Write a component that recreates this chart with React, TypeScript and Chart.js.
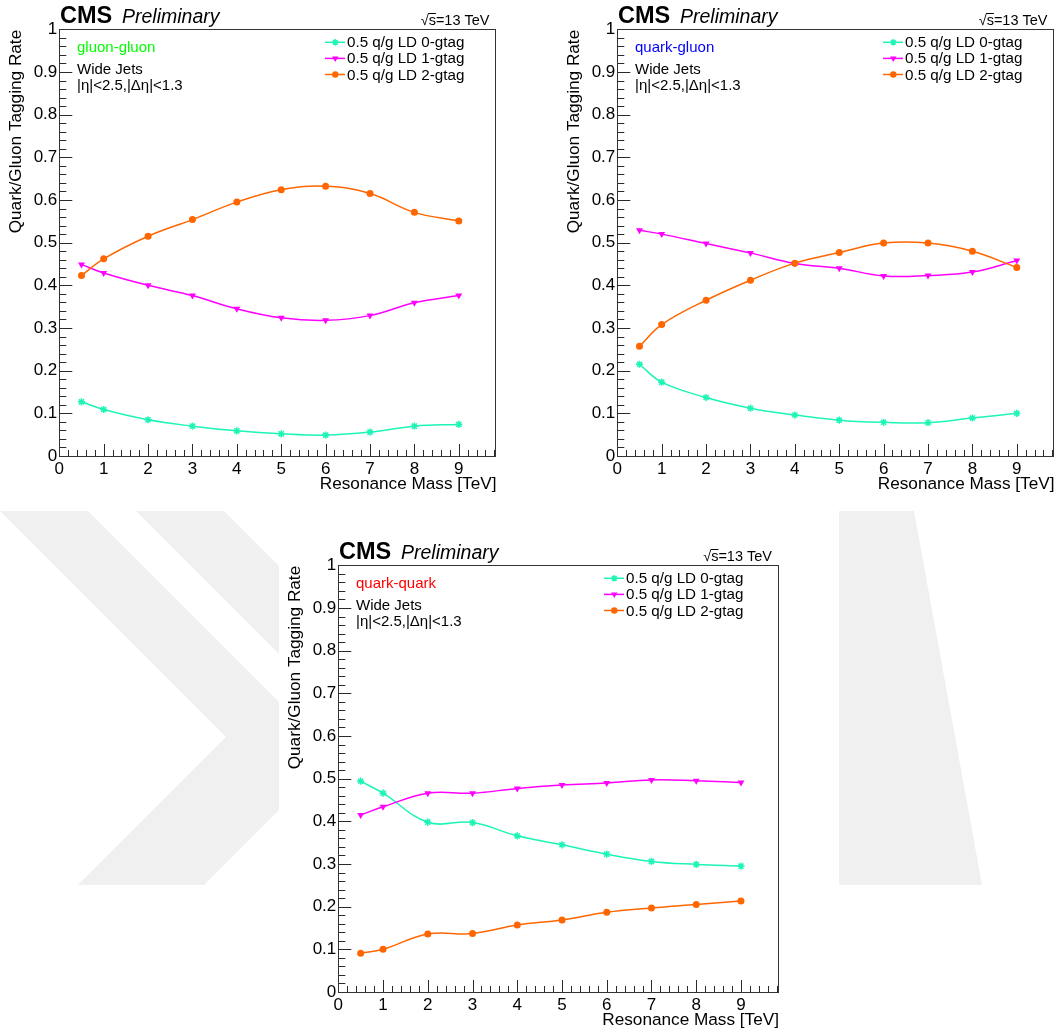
import React, { useEffect, useRef } from "react";
import { Chart, registerables } from "chart.js";

Chart.register(...registerables);

// Resonance mass points [TeV]
const massPoints = [0.5, 1, 2, 3, 4, 5, 6, 7, 8, 9];

// gluon-gluon tagging rates
const ggZeroTag = [0.127, 0.109, 0.085, 0.07, 0.059, 0.052, 0.049, 0.056, 0.07, 0.074];
const ggOneTag = [0.449, 0.429, 0.4, 0.376, 0.345, 0.324, 0.318, 0.329, 0.359, 0.376];
const ggTwoTag = [0.423, 0.462, 0.515, 0.554, 0.595, 0.624, 0.632, 0.615, 0.571, 0.551];

// quark-gluon tagging rates
const qgZeroTag = [0.215, 0.173, 0.137, 0.112, 0.096, 0.084, 0.079, 0.078, 0.089, 0.1];
const qgOneTag = [0.529, 0.52, 0.498, 0.476, 0.451, 0.44, 0.422, 0.423, 0.431, 0.458];
const qgTwoTag = [0.257, 0.308, 0.365, 0.412, 0.452, 0.477, 0.499, 0.499, 0.48, 0.442];

// quark-quark tagging rates
const qqZeroTag = [0.494, 0.466, 0.398, 0.397, 0.366, 0.345, 0.323, 0.306, 0.299, 0.295];
const qqOneTag = [0.415, 0.434, 0.466, 0.466, 0.477, 0.485, 0.49, 0.497, 0.495, 0.491];
const qqTwoTag = [0.091, 0.1, 0.136, 0.137, 0.157, 0.169, 0.187, 0.197, 0.205, 0.213];

const seriesLabels = ["0.5 q/g LD 0-gtag", "0.5 q/g LD 1-gtag", "0.5 q/g LD 2-gtag"];
const seriesColors = ["#1cf5b6", "#ff00ff", "#ff6600"];
const seriesMarkers = ["star", "triangle", "circle"];
const markerRadius = [3.6, 4, 3.5];
const markerRotation = [0, 180, 0];

const xAxisTitle = "Resonance Mass [TeV]";
const yAxisTitle = "Quark/Gluon Tagging Rate";
const selectionLines = ["Wide Jets", "|\u03b7|<2.5,|\u0394\u03b7|<1.3"];

const FONT = '"Liberation Sans", Arial, Helvetica, sans-serif';

// frame geometry inside every pad
const FRAME_LEFT = 59.3;
const FRAME_TOP = 29.3;
const FRAME_RIGHT = 500;
const FRAME_BOTTOM = 456;

function drawMarker(ctx: CanvasRenderingContext2D, style: string, x: number, y: number, r: number, color: string) {
  ctx.save();
  ctx.fillStyle = color;
  ctx.strokeStyle = color;
  if (style === "circle") {
    ctx.beginPath();
    ctx.arc(x, y, r, 0, Math.PI * 2);
    ctx.fill();
  } else if (style === "triangle") {
    let rad = Math.PI;
    ctx.beginPath();
    for (let i = 0; i < 3; i++) {
      const px = x + Math.sin(rad) * r;
      const py = y - Math.cos(rad) * r;
      if (i === 0) ctx.moveTo(px, py);
      else ctx.lineTo(px, py);
      rad += (2 * Math.PI) / 3;
    }
    ctx.closePath();
    ctx.fill();
  } else {
    ctx.lineWidth = 1.5;
    ctx.beginPath();
    ctx.moveTo(x - r, y);
    ctx.lineTo(x + r, y);
    ctx.moveTo(x, y - r);
    ctx.lineTo(x, y + r);
    const d = r * Math.SQRT1_2;
    ctx.moveTo(x - d, y - d);
    ctx.lineTo(x + d, y + d);
    ctx.moveTo(x - d, y + d);
    ctx.lineTo(x + d, y - d);
    ctx.stroke();
  }
  ctx.restore();
}

// ROOT-style frame, inward ticks, titles, labels and legend
const rootStylePlugin = {
  id: "rootStyle",
  afterDraw(chart: any, _args: any, opts: any) {
    const ctx: CanvasRenderingContext2D = chart.ctx;
    const a = chart.chartArea;
    const xs = chart.scales.x;
    const ys = chart.scales.y;
    ctx.save();

    // tick marks pointing into the frame
    ctx.strokeStyle = "#2a2a2a";
    ctx.lineWidth = 1;
    ctx.beginPath();
    for (let i = 0; i <= 50; i++) {
      const y = Math.round(ys.getPixelForValue(i * 0.02)) + 0.5;
      const len = i % 5 === 0 ? 13 : 7;
      ctx.moveTo(a.left, y);
      ctx.lineTo(a.left + len, y);
    }
    for (let i = 0; i <= 49; i++) {
      const x = Math.round(xs.getPixelForValue(i * 0.2)) + 0.5;
      const len = i % 5 === 0 ? 12 : 6;
      ctx.moveTo(x, a.bottom);
      ctx.lineTo(x, a.bottom - len);
    }
    ctx.stroke();

    // frame
    ctx.strokeStyle = "#333333";
    ctx.strokeRect(Math.round(a.left) + 0.5, Math.round(a.top) + 0.5, Math.round(a.right - a.left) - 1, Math.round(a.bottom - a.top));

    ctx.fillStyle = "#000";
    ctx.textBaseline = "alphabetic";

    // header
    ctx.textAlign = "left";
    ctx.font = `bold 23.5px ${FONT}`;
    ctx.fillText("CMS", a.left + 0.7, a.top - 6.5);
    ctx.font = `italic 19.5px ${FONT}`;
    ctx.fillText("Preliminary", a.left + 62.7, a.top - 6.5);

    // sqrt(s)=13 TeV
    ctx.font = `14.5px ${FONT}`;
    ctx.textAlign = "right";
    const energy = "s=13 TeV";
    const eRight = a.right - 7;
    const baseY = a.top - 4.3;
    ctx.fillText(energy, eRight, baseY);
    const eW = ctx.measureText(energy).width;
    const sW = ctx.measureText("s").width;
    const sLeft = eRight - eW;
    ctx.fillText("\u221a", sLeft, baseY);
    ctx.beginPath();
    ctx.lineWidth = 1;
    ctx.strokeStyle = "#000";
    ctx.moveTo(sLeft - 0.5, baseY - 11.5);
    ctx.lineTo(sLeft + sW, baseY - 11.5);
    ctx.stroke();

    // axis titles
    ctx.font = `17.2px ${FONT}`;
    ctx.textAlign = "right";
    ctx.fillText(xAxisTitle, a.right, a.bottom + 32.5);
    ctx.save();
    ctx.translate(a.left - 38.5, a.top + 0.5);
    ctx.rotate(-Math.PI / 2);
    ctx.fillText(yAxisTitle, 0, 0);
    ctx.restore();

    // channel and selection
    ctx.textAlign = "left";
    ctx.font = `15px ${FONT}`;
    ctx.fillStyle = opts.channelColor;
    ctx.fillText(opts.channel, a.left + 17.7, a.top + 22.2);
    ctx.fillStyle = "#000";
    ctx.fillText(selectionLines[0], a.left + 17.7, a.top + 44.2);
    ctx.fillText(selectionLines[1], a.left + 17.7, a.top + 60.2);

    // legend
    ctx.font = `15.2px ${FONT}`;
    seriesLabels.forEach((lab, i) => {
      const cy = a.top + 13 + i * 16.1;
      ctx.strokeStyle = seriesColors[i];
      ctx.lineWidth = 1.5;
      ctx.beginPath();
      ctx.moveTo(a.left + 265.7, cy);
      ctx.lineTo(a.left + 285.7, cy);
      ctx.stroke();
      drawMarker(ctx, seriesMarkers[i], a.left + 276, cy, markerRadius[i] - 0.3, seriesColors[i]);
      ctx.fillStyle = "#000";
      ctx.fillText(lab, a.left + 287.7, cy + 5);
    });

    ctx.restore();
  },
};

type PanelProps = {
  left: number;
  top: number;
  width: number;
  height: number;
  channel: string;
  channelColor: string;
  series: number[][];
};

function Panel({ left, top, width, height, channel, channelColor, series }: PanelProps) {
  const ref = useRef<HTMLCanvasElement | null>(null);

  useEffect(() => {
    if (!ref.current) return;
    const datasets = series.map((vals, i) => ({
      label: seriesLabels[i],
      data: massPoints.map((x, j) => ({ x, y: vals[j] })),
      borderColor: seriesColors[i],
      backgroundColor: seriesColors[i],
      borderWidth: 1.5,
      tension: 0.4,
      pointStyle: seriesMarkers[i] as any,
      pointRadius: markerRadius[i],
      pointRotation: markerRotation[i],
      pointBorderWidth: seriesMarkers[i] === "star" ? 1.5 : 0,
      pointBackgroundColor: seriesColors[i],
      pointBorderColor: seriesColors[i],
      fill: false,
      order: 2 - i,
    }));

    const chart = new Chart(ref.current, {
      type: "line",
      data: { datasets },
      plugins: [rootStylePlugin],
      options: {
        responsive: false,
        animation: false,
        devicePixelRatio: 1,
        layout: { padding: { left: 0, top: FRAME_TOP, right: width - FRAME_RIGHT, bottom: 0 } },
        plugins: {
          legend: { display: false },
          tooltip: { enabled: false },
          rootStyle: { channel, channelColor },
        } as any,
        scales: {
          x: {
            type: "linear",
            min: 0,
            max: 9.85,
            afterFit: (s: any) => {
              s.height = height - FRAME_BOTTOM;
            },
            grid: { display: false, drawTicks: false },
            border: { display: false },
            ticks: {
              stepSize: 1,
              includeBounds: false,
              autoSkip: false,
              maxRotation: 0,
              padding: 3,
              color: "#000",
              font: { family: FONT, size: 17 },
              callback: (v: any) => String(v),
            },
          },
          y: {
            type: "linear",
            min: 0,
            max: 1,
            afterFit: (s: any) => {
              s.width = FRAME_LEFT;
            },
            grid: { display: false, drawTicks: false },
            border: { display: false },
            ticks: {
              stepSize: 0.1,
              autoSkip: false,
              padding: 2,
              color: "#000",
              font: { family: FONT, size: 17 },
              callback: (v: any) => String(Math.round(Number(v) * 10) / 10),
            },
          },
        },
      } as any,
    });
    return () => chart.destroy();
  }, []);

  return (
    <canvas
      ref={ref}
      width={width}
      height={height}
      style={{ position: "absolute", left, top, width, height, background: "#fff", display: "block" }}
    />
  );
}

export default function App() {
  return (
    <div
      style={{
        position: "absolute",
        left: 0,
        top: 0,
        width: 1060,
        height: 1033,
        overflow: "hidden",
        background: "#fff",
      }}
    >
      {/* faint background emblem behind the pads */}
      <svg width={1060} height={1033} style={{ position: "absolute", left: 0, top: 0 }}>
        <polygon points="0,511 88,511 333,756 204,885 78,885 226,737" fill="#f0f0f0" />
        <polygon points="136,511 224,511 400,687 312,687" fill="#f0f0f0" />
        <polygon points="839,511 914,511 982,885 839,885" fill="#f0f0f0" />
      </svg>
      <Panel
        left={0}
        top={0}
        width={502}
        height={500}
        channel="gluon-gluon"
        channelColor="#00ff00"
        series={[ggZeroTag, ggOneTag, ggTwoTag]}
      />
      <Panel
        left={558}
        top={0}
        width={502}
        height={500}
        channel="quark-gluon"
        channelColor="#0000ff"
        series={[qgZeroTag, qgOneTag, qgTwoTag]}
      />
      <Panel
        left={279.4}
        top={536}
        width={560}
        height={497}
        channel="quark-quark"
        channelColor="#ff0000"
        series={[qqZeroTag, qqOneTag, qqTwoTag]}
      />
    </div>
  );
}
